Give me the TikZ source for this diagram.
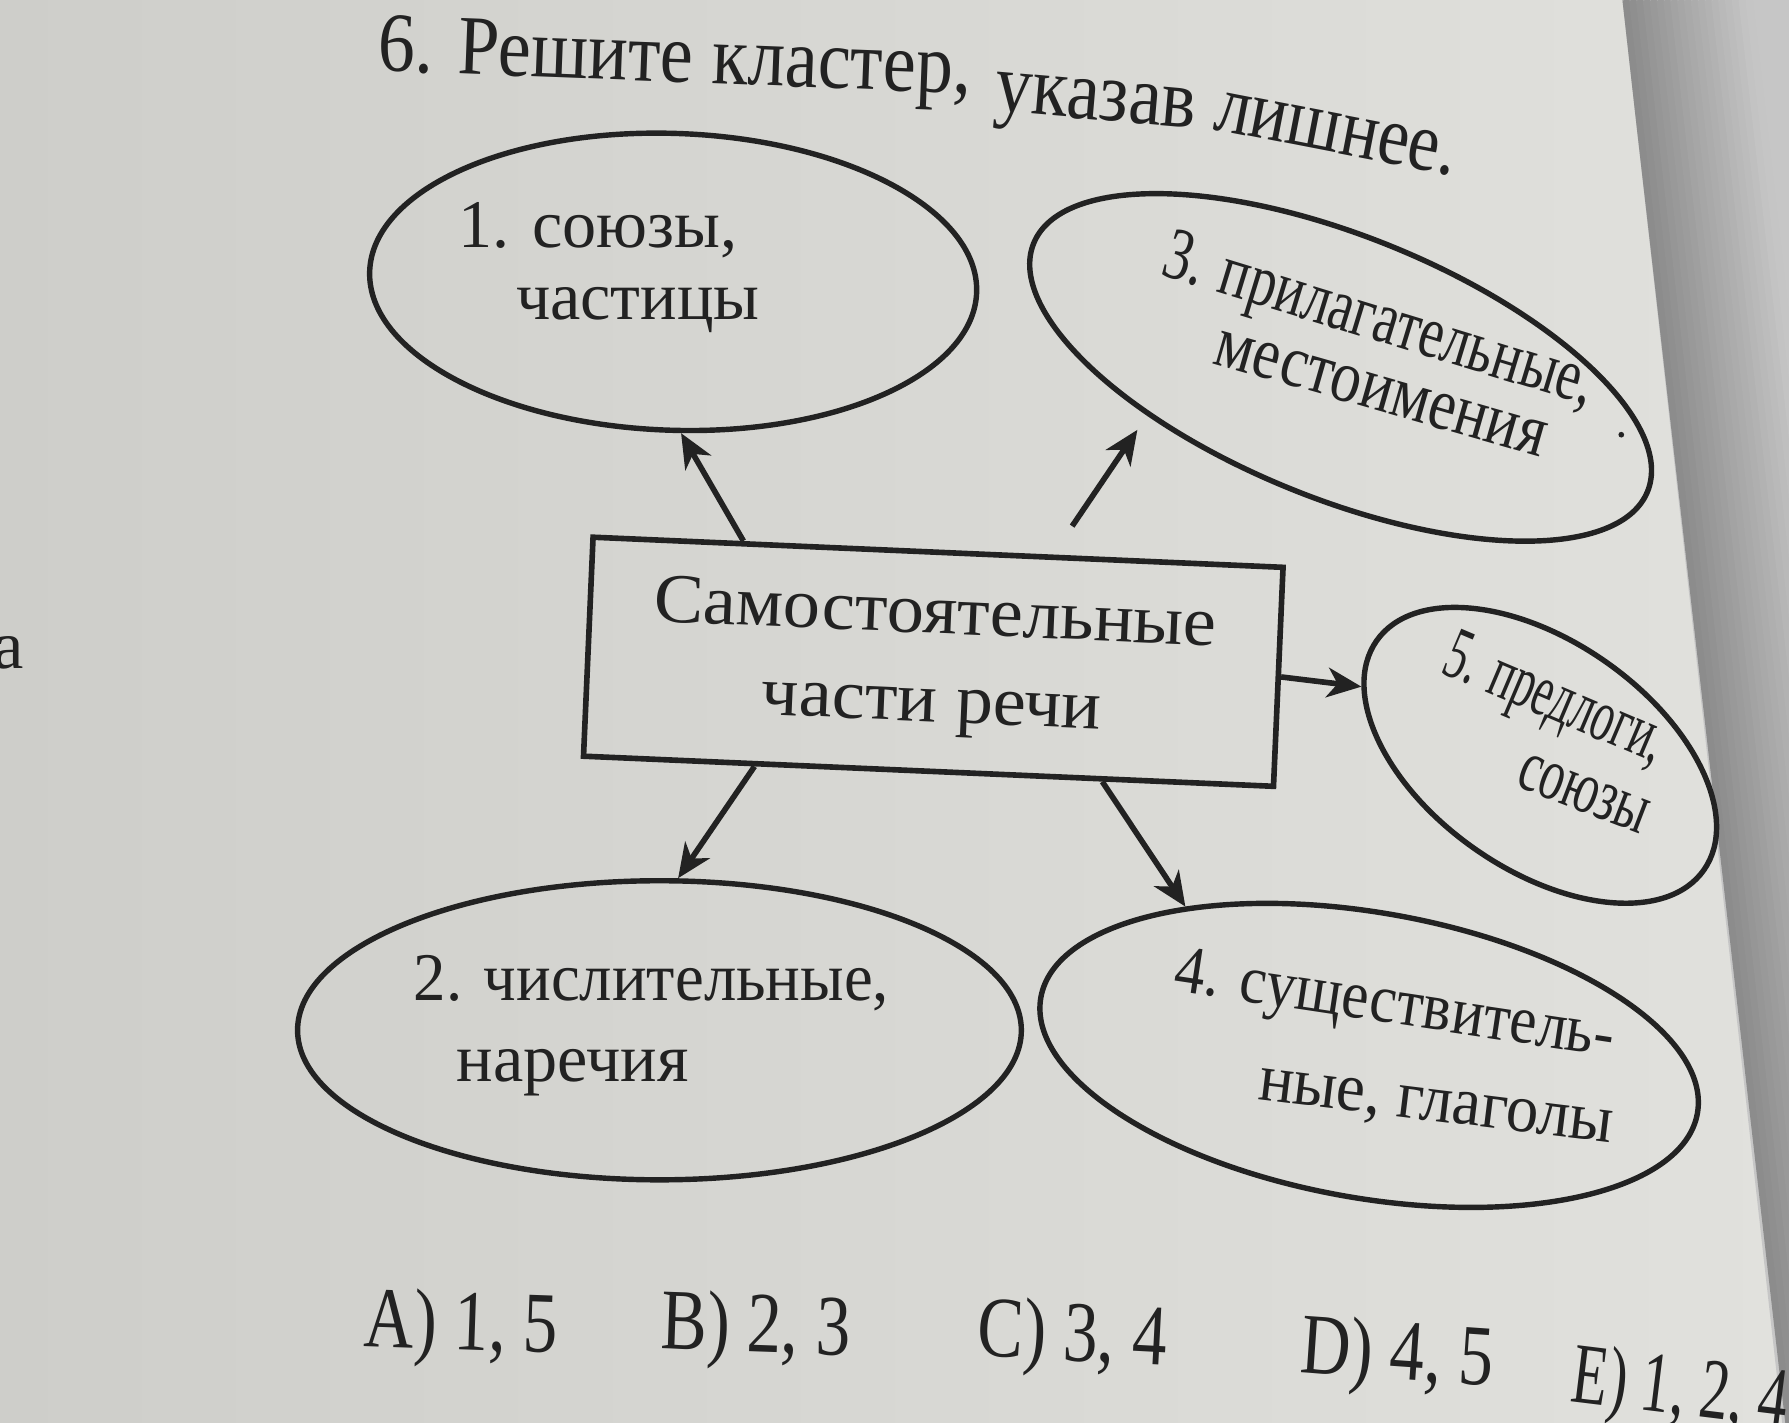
\documentclass[tikz,border=0pt]{standalone}
\usepackage{fontspec}
\setmainfont{Liberation Serif}
\newfontfamily\wideserif[FakeStretch=1.06]{Liberation Serif}
\newfontfamily\narrowserif[FakeStretch=0.8]{Liberation Serif}
\newfontfamily\titleserif[FakeStretch=0.88]{Liberation Serif}
\usetikzlibrary{shapes.geometric,arrows.meta,calc}
\definecolor{ink}{HTML}{222222}
\definecolor{bgL}{HTML}{CECECA}
\definecolor{bgR}{HTML}{E1E1DD}
\definecolor{offpage}{HTML}{C6C6C6}
\definecolor{shadowc}{HTML}{8C8C8C}
\begin{document}
\begin{tikzpicture}[x=0.01cm,y=-0.01cm,
  oval/.style={draw=ink, line width=1.35pt, ellipse, inner sep=0pt},
  boxst/.style={draw=ink, line width=1.4pt, inner sep=0pt, align=center,
    text=ink, font=\wideserif\fontsize{17.5}{22}\selectfont},
  lbl/.style={text=ink, inner sep=0pt, font=\fontsize{17}{20}\selectfont},
  lblb/.style={text=ink, inner sep=0pt, font=\fontsize{18.5}{20}\selectfont},
  ttl/.style={text=ink, inner sep=0pt, anchor=base west, font=\titleserif\fontsize{21}{24}\selectfont},
  ans/.style={text=ink, inner sep=0pt, anchor=base west, font=\narrowserif\fontsize{21.5}{24}\selectfont},
  arr/.style={draw=ink, line width=1.4pt, -{Stealth[length=3mm,width=2.6mm,inset=0.9mm]}}]

\useasboundingbox (0,0) rectangle (1568,1247);
% background (photographed page)
\fill[left color=bgL, right color=bgR] (0,0) rectangle (1568,1247);
\fill[offpage] (1422,0) -- (1568,0) -- (1568,1247) -- (1562,1247) -- cycle;
\begin{scope}
  \clip (1422,0) -- (1568,0) -- (1568,1247) -- (1562,1247) -- cycle;
  \foreach \i in {0,...,18} {
    \pgfmathtruncatemacro\pc{100-\i*5.5}
    \draw[color=shadowc!\pc!offpage, line width=0.065cm] (1425+\i*6,0) -- (1568+\i*6,1247);
  }
\end{scope}

% title
\node[ttl, rotate=-2.2] (title1) at (330,62) {6. Решите кластер,};
\node[ttl, rotate=-5] (title2) at (870,97) {указав};
\node[ttl, rotate=-11, xscale=0.95] (title3) at (1062,113) {лишнее.};

% margin letter
\node[lbl] (margin) at (8,572) {а};

% centre box
\node[boxst, rotate=-2.5, minimum width=6.05cm, minimum height=1.92cm] (rect) at (818,580)
  {Самостоятельные\\части речи};

% ovals
\node[oval, rotate=-2, minimum width=5.32cm, minimum height=2.6cm] (e1) at (590,247) {};
\node[oval, rotate=-22, minimum width=5.8cm, minimum height=2.3cm] (e3) at (1175,322) {};
\node[oval, rotate=-35, minimum width=3.5cm, minimum height=2.0cm] (e5) at (1350,662) {};
\node[oval, minimum width=6.34cm, minimum height=2.62cm] (e2) at (578,903) {};
\node[oval, rotate=-10, minimum width=5.84cm, minimum height=2.5cm] (e4) at (1200,925) {};

% labels
\node[lbl] (t1a) at (524,202) {1. союзы,};
\node[lbl] (t1b) at (559,272) {частицы};
\node[lblb, rotate=-17, xscale=0.74] (t3a) at (1208,284) {3. прилагательные,};
\node[lblb, rotate=-16, xscale=0.82] (t3b) at (1210,345) {местоимения};
\node[lblb, rotate=-23, xscale=0.6] (t5a) at (1362,616) {5. предлоги,};
\node[lblb, rotate=-21, xscale=0.66] (t5b) at (1388,696) {союзы};
\node[lbl, xscale=0.95] (t2a) at (571,862) {2. числительные,};
\node[lbl] (t2b) at (502,940) {наречия};
\node[lbl, rotate=-8.6, xscale=0.89] (t4a) at (1222,884) {4. существитель-};
\node[lbl, rotate=-7, xscale=0.95] (t4b) at (1258,973) {ные, глаголы};
\fill[ink] (1421,381) circle (2.5);

% connectors
\draw[arr] ($(rect.north west)!0.22!(rect.north east)$) -- (e1.275);
\draw[arr, shorten <=3mm, shorten >=1.5mm] ($(rect.north west)!0.665!(rect.north east)$) -- (e3.216);
\draw[arr] (rect.east) -- (e5.194);
\draw[arr] ($(rect.south west)!0.25!(rect.south east)$) -- (e2.83);
\draw[arr] ($(rect.south west)!0.75!(rect.south east)$) -- (e4.151);

% answers
\node[ans, rotate=-2] (ansA) at (318,1180) {A) 1, 5};
\node[ans, rotate=-2] (ansB) at (578,1182) {B) 2, 3};
\node[ans, rotate=-3] (ansC) at (855,1188) {C) 3, 4};
\node[ans, rotate=-4] (ansD) at (1138,1203) {D) 4, 5};
\node[ans, rotate=-7, xscale=0.85] (ansE) at (1375,1228) {E) 1, 2, 4};
\end{tikzpicture}
\end{document}
